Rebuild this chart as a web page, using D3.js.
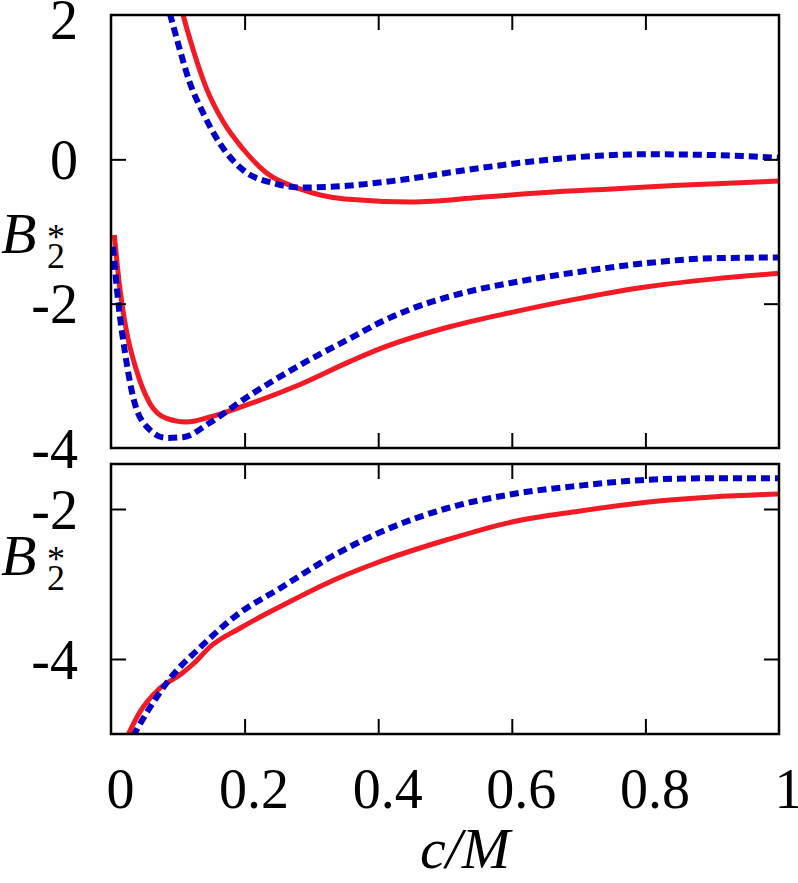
<!DOCTYPE html>
<html>
<head>
<meta charset="utf-8">
<script src="https://cdn.jsdelivr.net/npm/d3@7"></script>
<style>
  body { margin: 0; background: #fff; }
  svg { display: block; }
  text { font-family: "Liberation Serif", "Times New Roman", serif; fill: #000; }
</style>
</head>
<body>
<svg id="chart" width="798" height="883"></svg>
<script>
// ---------- data ----------
const xTicks = [0, 0.2, 0.4, 0.6, 0.8, 1];
const xTickLabels = ["0", "0.2", "0.4", "0.6", "0.8", "1"];
const topYTicks = [2, 0, -2, -4];
const topYTickLabels = ["2", "0", "-2", "-4"];
const botYTicks = [-2, -4];
const botYTickLabels = ["-2", "-4"];

// top panel, upper branch
const topUpperRedC = [0.100, 0.108, 0.123, 0.143, 0.168, 0.198, 0.233, 0.283, 0.350, 0.450, 0.550, 0.650, 0.750, 0.850, 0.950, 1.000];
const topUpperRedV = [2.30, 2.00, 1.52, 0.98, 0.52, 0.14, -0.19, -0.41, -0.55, -0.59, -0.53, -0.46, -0.41, -0.36, -0.32, -0.30];
const topUpperBlueC = [0.082, 0.0886, 0.103, 0.118, 0.138, 0.163, 0.198, 0.243, 0.283, 0.330, 0.430, 0.530, 0.630, 0.730, 0.800, 0.900, 1.000];
const topUpperBlueV = [2.20, 2.00, 1.52, 1.06, 0.64, 0.22, -0.15, -0.33, -0.39, -0.38, -0.29, -0.15, -0.03, 0.05, 0.07, 0.06, 0.02];
// top panel, lower branch
const topLowerRedC = [0.005, 0.013, 0.023, 0.038, 0.058, 0.083, 0.113, 0.148, 0.198, 0.283, 0.358, 0.407, 0.507, 0.600, 0.700, 0.800, 0.900, 1.000];
const topLowerRedV = [-1.05, -1.77, -2.37, -2.92, -3.38, -3.59, -3.64, -3.57, -3.42, -3.12, -2.80, -2.61, -2.32, -2.12, -1.93, -1.77, -1.66, -1.58];
const topLowerBlueC = [0.003, 0.011, 0.021, 0.033, 0.054, 0.083, 0.108, 0.148, 0.198, 0.283, 0.358, 0.407, 0.450, 0.507, 0.550, 0.600, 0.700, 0.800, 0.900, 1.000];
const topLowerBlueV = [-1.21, -1.99, -2.68, -3.29, -3.71, -3.86, -3.85, -3.65, -3.33, -2.85, -2.48, -2.24, -2.07, -1.90, -1.80, -1.71, -1.56, -1.44, -1.37, -1.36];
// bottom panel
const botRedC = [0.025, 0.043, 0.073, 0.105, 0.125, 0.148, 0.193, 0.258, 0.333, 0.403, 0.503, 0.602, 0.700, 0.802, 0.900, 1.000];
const botRedV = [-5.02, -4.71, -4.39, -4.20, -4.05, -3.84, -3.59, -3.28, -2.95, -2.70, -2.41, -2.17, -2.03, -1.91, -1.84, -1.80];
const botBlueC = [0.033, 0.058, 0.093, 0.133, 0.183, 0.258, 0.333, 0.403, 0.503, 0.602, 0.700, 0.802, 0.900, 1.000];
const botBlueV = [-5.03, -4.65, -4.21, -3.85, -3.45, -3.03, -2.62, -2.31, -1.99, -1.80, -1.69, -1.61, -1.59, -1.59];

// ---------- layout ----------
const RED = "#f21a24", BLUE = "#0000c8";
const svg = d3.select("#chart");
const x = d3.scaleLinear().domain([0, 1]).range([111, 779]);
const yTop = d3.scaleLinear().domain([-4, 2]).range([448, 15]);
const yBot = d3.scaleLinear().domain([-5, -1.4]).range([734, 464]);

function zip(c, v) { return c.map((d, i) => ({c: d, v: v[i]})); }

function panel(id, y, yTicks, yLabels, series) {
  const [x0, x1] = x.range();
  const [y0, y1] = [y.range()[1], y.range()[0]];
  svg.append("clipPath").attr("id", id).append("rect")
    .attr("x", x0).attr("y", y0).attr("width", x1 - x0).attr("height", y1 - y0);

  const g = svg.append("g");
  const line = d3.line().x(d => x(d.c)).y(d => y(d.v)).curve(d3.curveMonotoneX);
  const cg = g.append("g").attr("clip-path", `url(#${id})`);
  series.forEach(s => {
    cg.append("path").datum(s.data)
      .attr("fill", "none")
      .attr("stroke", s.color)
      .attr("stroke-width", s.dash ? 6 : 5)
      .attr("stroke-dasharray", s.dash ? "9,5" : null)
      .attr("d", line);
  });

  const inner = [0.2, 0.4, 0.6, 0.8];
  const tl = 15;
  const styleAxis = sel => { sel.select(".domain").remove(); sel.selectAll("line").attr("stroke", "#000").attr("stroke-width", 2); sel.selectAll("text").remove(); };
  g.append("g").attr("transform", `translate(0,${y1})`)
    .call(d3.axisBottom(x).tickValues(inner).tickSize(-tl)).call(styleAxis);
  g.append("g").attr("transform", `translate(0,${y0})`)
    .call(d3.axisTop(x).tickValues(inner).tickSize(-tl)).call(styleAxis);
  const innerY = yTicks.filter(v => y(v) > y0 + 2 && y(v) < y1 - 2);
  g.append("g").attr("transform", `translate(${x0},0)`)
    .call(d3.axisLeft(y).tickValues(innerY).tickSize(-tl)).call(styleAxis);
  g.append("g").attr("transform", `translate(${x1},0)`)
    .call(d3.axisRight(y).tickValues(innerY).tickSize(-tl)).call(styleAxis);

  // y tick labels
  const la = g.append("g").attr("transform", `translate(78,0)`)
    .call(d3.axisLeft(y).tickValues(yTicks).tickSize(0).tickPadding(0)
      .tickFormat((d, i) => yLabels[i]));
  la.select(".domain").remove();
  la.selectAll("text").attr("font-size", 56).attr("dy", "0.34em");

  g.append("rect").attr("x", x0).attr("y", y0).attr("width", x1 - x0).attr("height", y1 - y0)
    .attr("fill", "none").attr("stroke", "#000").attr("stroke-width", 2.5);
  return g;
}

const gTop = panel("clipTop", yTop, topYTicks, topYTickLabels, [
  {data: zip(topUpperRedC, topUpperRedV), color: RED},
  {data: zip(topLowerRedC, topLowerRedV), color: RED},
  {data: zip(topUpperBlueC, topUpperBlueV), color: BLUE, dash: true},
  {data: zip(topLowerBlueC, topLowerBlueV), color: BLUE, dash: true}
]);
// nudge the top "2" label down slightly as in the original
gTop.selectAll("text").filter(function() { return this.textContent === "2"; }).attr("dy", "0.42em");

panel("clipBot", yBot, botYTicks, botYTickLabels, [
  {data: zip(botRedC, botRedV), color: RED},
  {data: zip(botBlueC, botBlueV), color: BLUE, dash: true}
]);

// x tick labels
const xa = svg.append("g").attr("transform", "translate(9,808)")
  .call(d3.axisBottom(x).tickValues(xTicks).tickSize(0).tickPadding(0)
    .tickFormat((d, i) => xTickLabels[i]));
xa.select(".domain").remove();
xa.selectAll("text").attr("font-size", 56).attr("dy", 0).attr("y", 0);

// axis titles
svg.append("text").attr("x", 465).attr("y", 868).attr("text-anchor", "middle")
  .attr("font-size", 58).attr("font-style", "italic").text("c/M");

function b2(yBase) {
  const t = svg.append("text").attr("x", 1).attr("y", yBase).attr("font-size", 58);
  t.append("tspan").attr("font-style", "italic").text("B");
  t.append("tspan").attr("x", 47).attr("y", yBase - 4).attr("font-size", 36).text("*");
  t.append("tspan").attr("x", 47).attr("y", yBase + 15).attr("font-size", 36).text("2");
}
b2(253);
b2(575);
</script>
</body>
</html>
